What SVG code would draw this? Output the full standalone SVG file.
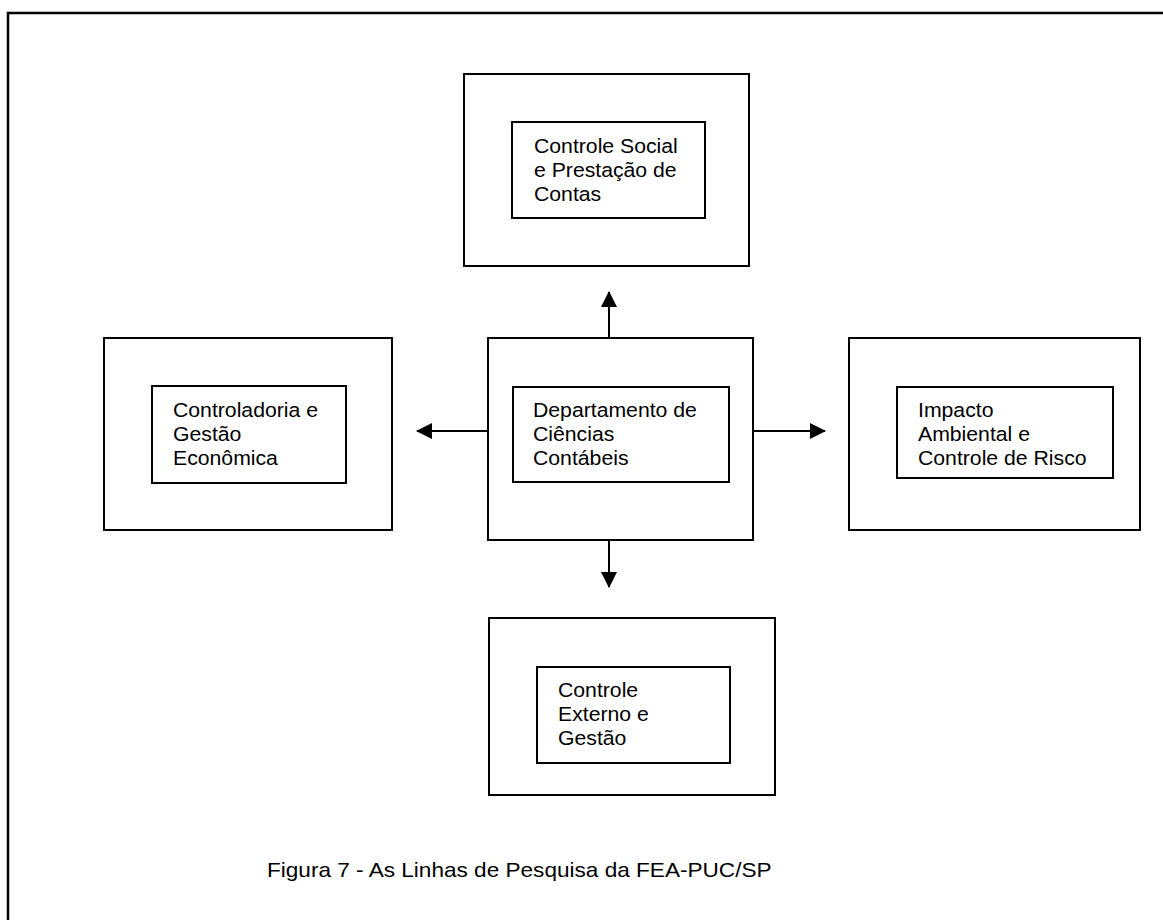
<svg xmlns="http://www.w3.org/2000/svg" width="1163" height="920" viewBox="0 0 1163 920">
<defs>
<style>
.frame{fill:none;stroke:#000;stroke-width:2.5}
.box{fill:#fff;stroke:#000;stroke-width:2}
.lbl{font-family:"Liberation Sans",Arial,sans-serif;font-size:19.3px;fill:#000}
.cap{font-family:"Liberation Sans",Arial,sans-serif;font-size:21px;fill:#000}
.conn{stroke:#000;stroke-width:2;fill:none}
</style>
<marker id="arr" viewBox="0 0 16 16" refX="15" refY="8" markerWidth="16" markerHeight="16" markerUnits="userSpaceOnUse" orient="auto">
<path d="M0,0 L16,8 L0,16 Z" fill="#000"/>
</marker>
</defs>
<rect width="1163" height="920" fill="#fff"/>
<rect class="frame" x="8" y="13" width="1200" height="1000"/>

<g id="connectors">
<line class="conn" x1="609" y1="338" x2="609" y2="292" marker-end="url(#arr)"/>
<line class="conn" x1="488" y1="431" x2="417" y2="431" marker-end="url(#arr)"/>
<line class="conn" x1="753" y1="431" x2="825" y2="431" marker-end="url(#arr)"/>
<line class="conn" x1="609" y1="540" x2="609" y2="587" marker-end="url(#arr)"/>
</g>

<g id="node-top">
<rect class="box" x="464" y="74" width="285" height="192"/>
<rect class="box" x="512" y="122" width="193" height="96"/>
<text class="lbl" transform="translate(534,153) scale(1.1,1)"><tspan x="0" y="0">Controle Social</tspan><tspan x="0" y="24">e Prestação de</tspan><tspan x="0" y="48">Contas</tspan></text>
</g>

<g id="node-center">
<rect class="box" x="488" y="338" width="265" height="202"/>
<rect class="box" x="513" y="387" width="216" height="95"/>
<text class="lbl" transform="translate(533,417) scale(1.1,1)"><tspan x="0" y="0">Departamento de</tspan><tspan x="0" y="24">Ciências</tspan><tspan x="0" y="48">Contábeis</tspan></text>
</g>

<g id="node-left">
<rect class="box" x="104" y="338" width="288" height="192"/>
<rect class="box" x="152" y="386" width="194" height="97"/>
<text class="lbl" transform="translate(173,417) scale(1.1,1)"><tspan x="0" y="0">Controladoria e</tspan><tspan x="0" y="24">Gestão</tspan><tspan x="0" y="48">Econômica</tspan></text>
</g>

<g id="node-right">
<rect class="box" x="849" y="338" width="291" height="192"/>
<rect class="box" x="897" y="387" width="216" height="91"/>
<text class="lbl" transform="translate(918,417) scale(1.1,1)"><tspan x="0" y="0">Impacto</tspan><tspan x="0" y="24">Ambiental e</tspan><tspan x="0" y="48">Controle de Risco</tspan></text>
</g>

<g id="node-bottom">
<rect class="box" x="489" y="618" width="286" height="177"/>
<rect class="box" x="537" y="667" width="193" height="96"/>
<text class="lbl" transform="translate(558,697) scale(1.1,1)"><tspan x="0" y="0">Controle</tspan><tspan x="0" y="24">Externo e</tspan><tspan x="0" y="48">Gestão</tspan></text>
</g>

<g id="caption">
<text class="cap" transform="translate(267,877) scale(1.076,1)">Figura 7 - As Linhas de Pesquisa da FEA-PUC/SP</text>
</g>
</svg>
